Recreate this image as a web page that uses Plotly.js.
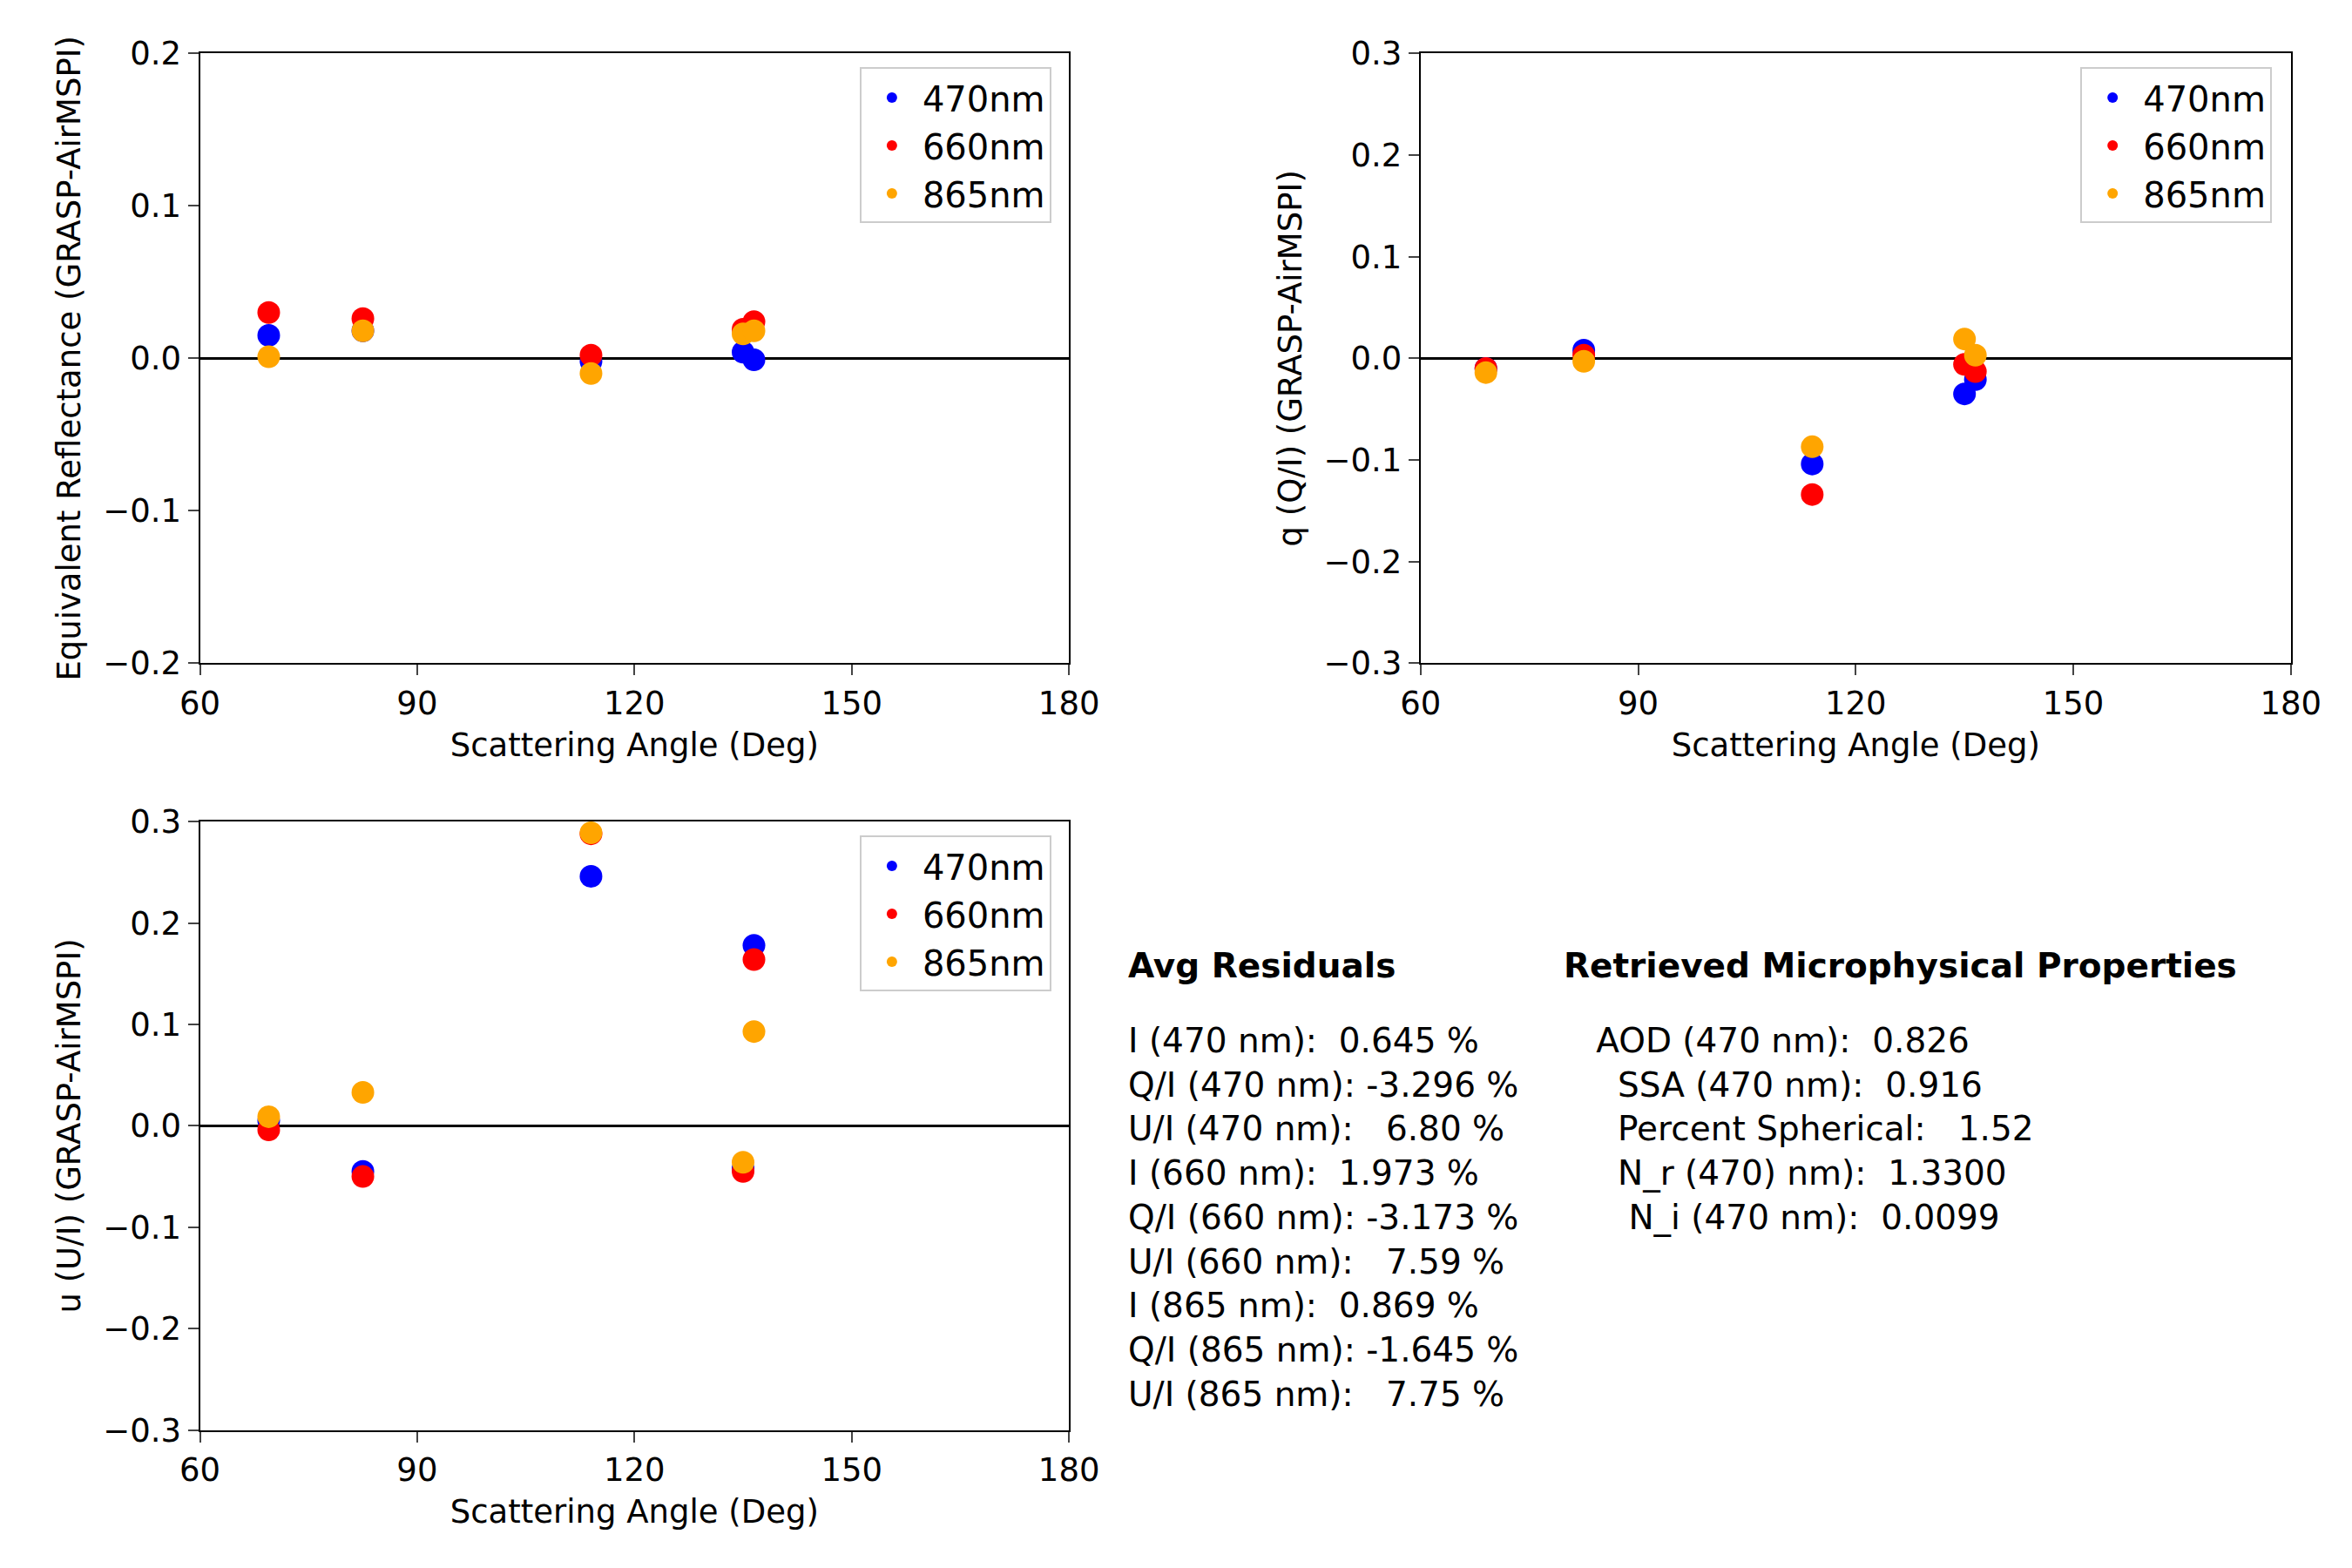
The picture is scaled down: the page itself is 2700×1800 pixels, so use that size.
<!DOCTYPE html>
<html>
<head>
<script src="https://cdn.plot.ly/plotly-3.0.1.min.js"></script>
<style>body{margin:0;background:#fff}</style>
</head>
<body>
<div id="plot" style="width:2700px;height:1800px"></div>
<script>
// scattering angles per panel
const angI = [69.5, 82.5, 114, 135, 136.5];
const angQ = [69, 82.5, 114, 135, 136.5];
const angU = [69.5, 82.5, 114, 135, 136.5];

// equivalent reflectance residuals
const i470 = [0.015, 0.018, -0.002, 0.004, -0.001];
const i660 = [0.030, 0.026, 0.002, 0.019, 0.024];
const i865 = [0.001, 0.018, -0.010, 0.016, 0.018];

// q residuals
const q470 = [-0.010, 0.008, -0.104, -0.035, -0.021];
const q660 = [-0.010, 0.003, -0.134, -0.006, -0.013];
const q865 = [-0.014, -0.003, -0.087, 0.019, 0.003];

// u residuals
const u470 = [0.005, -0.045, 0.246, -0.042, 0.178];
const u660 = [-0.004, -0.050, 0.288, -0.045, 0.164];
const u865 = [0.009, 0.033, 0.289, -0.036, 0.093];

const names = ["470nm", "660nm", "865nm"];
const colors = ["blue", "red", "orange"];

const resLines = ["I (470 nm):  0.645 %", "Q/I (470 nm): -3.296 %", "U/I (470 nm):   6.80 %",
  "I (660 nm):  1.973 %", "Q/I (660 nm): -3.173 %", "U/I (660 nm):   7.59 %",
  "I (865 nm):  0.869 %", "Q/I (865 nm): -1.645 %", "U/I (865 nm):   7.75 %"];
const propLines = ["   AOD (470 nm):  0.826", "     SSA (470 nm):  0.916", "     Percent Spherical:   1.52",
  "     N_r (470) nm):  1.3300", "      N_i (470 nm):  0.0099"];

const F = "DejaVu Sans, sans-serif";
const fs = 37;
const data = [];
[[angI, [i470, i660, i865], "x", "y", "legend"],
 [angQ, [q470, q660, q865], "x2", "y2", "legend2"],
 [angU, [u470, u660, u865], "x3", "y3", "legend3"]].forEach(p => {
  p[1].forEach((vals, k) => {
    data.push({x: p[0], y: vals, xaxis: p[2], yaxis: p[3], legend: p[4],
      type: "scatter", mode: "markers", name: names[k], cliponaxis: false,
      marker: {color: colors[k], size: 26}});
  });
});

function xa(dom) {
  return {domain: dom, range: [60, 180], tickvals: [60, 90, 120, 150, 180],
    ticks: "outside", ticklen: 12, tickwidth: 2, showgrid: false, zeroline: false,
    showline: true, mirror: true, linewidth: 2, linecolor: "black",
    tickfont: {size: fs}, title: {text: "Scattering Angle (Deg)", font: {size: fs}, standoff: 14}};
}
function ya(dom, r, dt, t, anchor) {
  return {domain: dom, range: r, dtick: dt, tickformat: ".1f", anchor: anchor,
    ticks: "outside", ticklen: 12, tickwidth: 2, showgrid: false,
    zeroline: true, zerolinecolor: "black", zerolinewidth: 2.5,
    showline: true, mirror: true, linewidth: 2, linecolor: "black",
    tickfont: {size: fs}, title: {text: t, font: {size: fs}, standoff: 14}};
}
function leg(x, y) {
  return {x: x, y: y, xanchor: "right", yanchor: "top", bgcolor: "rgba(255,255,255,0.8)",
    bordercolor: "#ccc", borderwidth: 2, font: {size: 40}, itemsizing: "constant",
    tracegroupgap: 0, itemwidth: 60};
}

const annotations = [
  {text: "<b>Avg Residuals</b>", x: 0.479, y: 0.398},
  {text: "<b>Retrieved Microphysical Properties</b>", x: 0.664, y: 0.398},
  {text: resLines.join("<br>"), x: 0.479, y: 0.35},
  {text: propLines.join("<br>"), x: 0.664, y: 0.35}
].map(a => Object.assign({xref: "paper", yref: "paper", xanchor: "left", yanchor: "top",
  showarrow: false, align: "left", font: {size: 39, color: "black"}}, a));

const layout = {
  width: 2700, height: 1800, margin: {l: 0, r: 0, t: 0, b: 0},
  paper_bgcolor: "white", plot_bgcolor: "white", font: {family: F, color: "black", size: fs},
  xaxis: Object.assign(xa([0.085, 0.4545]), {anchor: "y"}),
  yaxis: ya([0.577, 0.966], [-0.2, 0.2], 0.1, "Equivalent Reflectance (GRASP-AirMSPI)", "x"),
  xaxis2: Object.assign(xa([0.604, 0.974]), {anchor: "y2"}),
  yaxis2: ya([0.577, 0.966], [-0.3, 0.3], 0.1, "q (Q/I) (GRASP-AirMSPI)", "x2"),
  xaxis3: Object.assign(xa([0.085, 0.4545]), {anchor: "y3"}),
  yaxis3: ya([0.088, 0.476], [-0.3, 0.3], 0.1, "u (U/I) (GRASP-AirMSPI)", "x3"),
  legend: leg(0.447, 0.957),
  legend2: leg(0.966, 0.957),
  legend3: leg(0.447, 0.467),
  annotations: annotations
};
Plotly.newPlot("plot", data, layout, {staticPlot: true});
</script>
</body>
</html>
